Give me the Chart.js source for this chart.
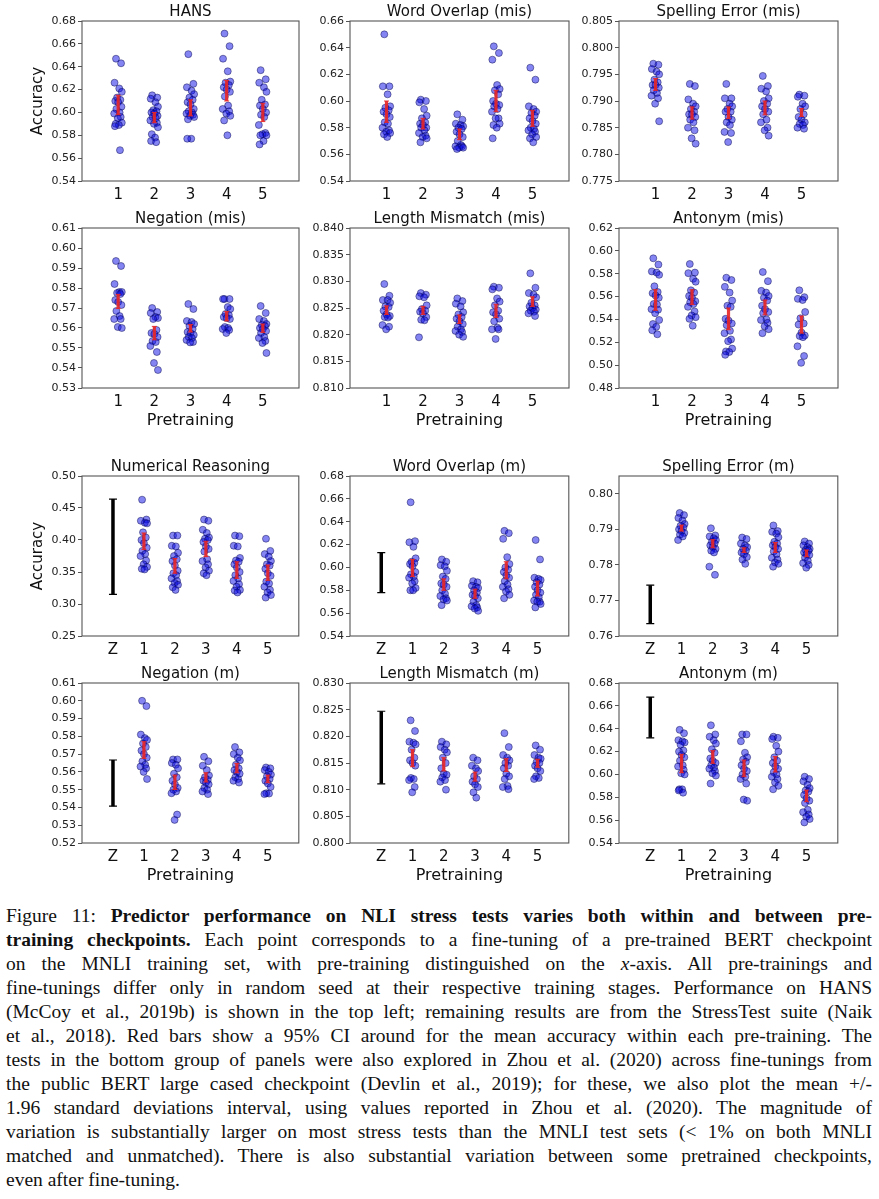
<!DOCTYPE html>
<html lang="en">
<head>
<meta charset="UTF-8">
<title>Figure 11</title>
<script src="https://cdn.jsdelivr.net/npm/chart.js@4"></script>
<style>
  body { margin: 0; background: #fff; width: 879px; height: 1199px; position: relative; overflow: hidden; }
  .panel { position: absolute; }
  .caption { position: absolute; left: 6px; top: 904px; width: 866px; font-family: "Liberation Serif", "DejaVu Serif", serif; font-size: 19.5px; line-height: 24px; color: #111; }
  .caption div { text-align: justify; text-align-last: justify; }
  .caption div.last { text-align-last: left; }
</style>
</head>
<body>
<div id="panels"></div>
<div class="caption">
<div>Figure 11: <b>Predictor performance on NLI stress tests varies both within and between pre-</b></div>
<div><b>training checkpoints.</b> Each point corresponds to a fine-tuning of a pre-trained BERT checkpoint</div>
<div>on the MNLI training set, with pre-training distinguished on the <i>x</i>-axis. All pre-trainings and</div>
<div>fine-tunings differ only in random seed at their respective training stages. Performance on HANS</div>
<div>(McCoy et al., 2019b) is shown in the top left; remaining results are from the StressTest suite (Naik</div>
<div>et al., 2018). Red bars show a 95% CI around for the mean accuracy within each pre-training. The</div>
<div>tests in the bottom group of panels were also explored in Zhou et al. (2020) across fine-tunings from</div>
<div>the public BERT large cased checkpoint (Devlin et al., 2019); for these, we also plot the mean +/-</div>
<div>1.96 standard deviations interval, using values reported in Zhou et al. (2020). The magnitude of</div>
<div>variation is substantially larger on most stress tests than the MNLI test sets (&lt; 1% on both MNLI</div>
<div>matched and unmatched). There is also substantial variation between some pretrained checkpoints,</div>
<div class="last">even after fine-tuning.</div>
</div>
<script>
// accuracy of each fine-tuning, one list per pre-training (1..5)
const hansPts = [
  [0.647, 0.643, 0.626, 0.621, 0.618, 0.613, 0.611, 0.610, 0.609, 0.605, 0.603, 0.600, 0.599, 0.596, 0.595, 0.591, 0.590, 0.589, 0.588, 0.567],
  [0.615, 0.613, 0.612, 0.609, 0.605, 0.602, 0.601, 0.600, 0.599, 0.597, 0.596, 0.595, 0.593, 0.591, 0.590, 0.587, 0.581, 0.578, 0.575, 0.574],
  [0.651, 0.625, 0.622, 0.619, 0.616, 0.613, 0.611, 0.609, 0.607, 0.603, 0.601, 0.600, 0.599, 0.598, 0.597, 0.596, 0.594, 0.577, 0.577],
  [0.669, 0.658, 0.647, 0.636, 0.627, 0.626, 0.624, 0.622, 0.620, 0.618, 0.614, 0.606, 0.603, 0.601, 0.599, 0.597, 0.593, 0.580],
  [0.637, 0.629, 0.626, 0.622, 0.618, 0.611, 0.607, 0.606, 0.603, 0.600, 0.598, 0.596, 0.589, 0.582, 0.581, 0.580, 0.580, 0.575, 0.572]
];
const hansCI = [[0.598, 0.615], [0.591, 0.600], [0.597, 0.611], [0.610, 0.628], [0.592, 0.608]];

const wordMisPts = [
  [0.650, 0.611, 0.611, 0.605, 0.596, 0.595, 0.593, 0.592, 0.590, 0.588, 0.584, 0.583, 0.580, 0.578, 0.577, 0.576, 0.575, 0.573],
  [0.601, 0.600, 0.599, 0.594, 0.589, 0.587, 0.584, 0.583, 0.582, 0.580, 0.580, 0.578, 0.576, 0.574, 0.573, 0.572, 0.569],
  [0.590, 0.586, 0.583, 0.582, 0.581, 0.580, 0.579, 0.577, 0.575, 0.573, 0.570, 0.567, 0.566, 0.566, 0.565, 0.565, 0.564],
  [0.641, 0.636, 0.631, 0.612, 0.609, 0.608, 0.605, 0.600, 0.598, 0.597, 0.596, 0.594, 0.592, 0.587, 0.587, 0.583, 0.582, 0.580, 0.572],
  [0.625, 0.616, 0.596, 0.594, 0.592, 0.591, 0.589, 0.587, 0.585, 0.583, 0.580, 0.579, 0.578, 0.577, 0.575, 0.573, 0.572, 0.569]
];
const wordMisCI = [[0.584, 0.600], [0.579, 0.587], [0.571, 0.579], [0.592, 0.608], [0.581, 0.593]];

const spellMisPts = [
  [0.7970, 0.7968, 0.7960, 0.7955, 0.7950, 0.7940, 0.7935, 0.7930, 0.7930, 0.7925, 0.7920, 0.7915, 0.7910, 0.7905, 0.7895, 0.7862],
  [0.7932, 0.7928, 0.7903, 0.7895, 0.7890, 0.7885, 0.7880, 0.7875, 0.7875, 0.7870, 0.7865, 0.7860, 0.7850, 0.7845, 0.7830, 0.7820],
  [0.7932, 0.7905, 0.7905, 0.7895, 0.7890, 0.7885, 0.7880, 0.7880, 0.7870, 0.7865, 0.7860, 0.7855, 0.7842, 0.7840, 0.7823],
  [0.7947, 0.7928, 0.7923, 0.7918, 0.7905, 0.7900, 0.7895, 0.7890, 0.7885, 0.7880, 0.7875, 0.7865, 0.7860, 0.7850, 0.7845, 0.7835],
  [0.7912, 0.7910, 0.7908, 0.7895, 0.7890, 0.7885, 0.7875, 0.7870, 0.7865, 0.7860, 0.7857, 0.7855, 0.7850, 0.7848]
];
const spellMisCI = [[0.7920, 0.7942], [0.7866, 0.7889], [0.7867, 0.7889], [0.7874, 0.7900], [0.7871, 0.7886]];

const negMisPts = [
  [0.5935, 0.5910, 0.5820, 0.5780, 0.5780, 0.5775, 0.5770, 0.5740, 0.5730, 0.5715, 0.5685, 0.5660, 0.5645, 0.5645, 0.5605, 0.5600],
  [0.5700, 0.5680, 0.5675, 0.5655, 0.5650, 0.5645, 0.5590, 0.5575, 0.5570, 0.5555, 0.5535, 0.5530, 0.5510, 0.5480, 0.5425, 0.5390],
  [0.5720, 0.5695, 0.5635, 0.5630, 0.5620, 0.5610, 0.5595, 0.5580, 0.5575, 0.5565, 0.5555, 0.5550, 0.5540, 0.5530, 0.5528],
  [0.5745, 0.5745, 0.5745, 0.5705, 0.5695, 0.5670, 0.5665, 0.5655, 0.5650, 0.5645, 0.5605, 0.5600, 0.5595, 0.5590, 0.5575],
  [0.5710, 0.5675, 0.5645, 0.5635, 0.5620, 0.5615, 0.5610, 0.5600, 0.5595, 0.5585, 0.5575, 0.5555, 0.5550, 0.5535, 0.5525, 0.5475]
];
const negMisCI = [[0.5697, 0.5768], [0.5541, 0.5608], [0.5580, 0.5617], [0.5635, 0.5682], [0.5578, 0.5620]];

const lenMisPts = [
  [0.8295, 0.8273, 0.8265, 0.8265, 0.8260, 0.8253, 0.8252, 0.8245, 0.8238, 0.8235, 0.8233, 0.8232, 0.8218, 0.8215, 0.8210],
  [0.8278, 0.8275, 0.8272, 0.8270, 0.8255, 0.8248, 0.8245, 0.8243, 0.8240, 0.8233, 0.8228, 0.8227, 0.8195],
  [0.8268, 0.8263, 0.8258, 0.8253, 0.8242, 0.8238, 0.8233, 0.8230, 0.8225, 0.8220, 0.8215, 0.8210, 0.8207, 0.8205, 0.8200, 0.8196],
  [0.8290, 0.8288, 0.8285, 0.8268, 0.8262, 0.8255, 0.8245, 0.8242, 0.8238, 0.8230, 0.8225, 0.8213, 0.8210, 0.8210, 0.8192],
  [0.8315, 0.8288, 0.8278, 0.8275, 0.8270, 0.8260, 0.8255, 0.8253, 0.8250, 0.8247, 0.8245, 0.8243, 0.8240, 0.8235]
];
const lenMisCI = [[0.8238, 0.8254], [0.8238, 0.8253], [0.8221, 0.8237], [0.8232, 0.8257], [0.8253, 0.8271]];

const antMisPts = [
  [0.5935, 0.5880, 0.5820, 0.5810, 0.5790, 0.5690, 0.5640, 0.5630, 0.5610, 0.5590, 0.5535, 0.5530, 0.5490, 0.5485, 0.5455, 0.5395, 0.5360, 0.5335, 0.5305, 0.5270],
  [0.5885, 0.5810, 0.5805, 0.5755, 0.5730, 0.5655, 0.5635, 0.5605, 0.5590, 0.5560, 0.5550, 0.5535, 0.5510, 0.5470, 0.5435, 0.5420, 0.5405, 0.5345],
  [0.5765, 0.5745, 0.5685, 0.5635, 0.5565, 0.5520, 0.5510, 0.5405, 0.5390, 0.5365, 0.5350, 0.5300, 0.5280, 0.5225, 0.5210, 0.5145, 0.5120, 0.5115, 0.5090],
  [0.5815, 0.5735, 0.5650, 0.5635, 0.5605, 0.5590, 0.5565, 0.5520, 0.5490, 0.5465, 0.5455, 0.5400, 0.5395, 0.5370, 0.5340, 0.5315, 0.5280],
  [0.5655, 0.5595, 0.5580, 0.5570, 0.5465, 0.5410, 0.5365, 0.5355, 0.5285, 0.5260, 0.5255, 0.5245, 0.5165, 0.5080, 0.5020]
];
const antMisCI = [[0.548, 0.566], [0.553, 0.566], [0.531, 0.550], [0.544, 0.557], [0.528, 0.543]];

// bottom group: Z = mean +/- 1.96 sd from Zhou et al. (2020)
const numPts = [
  [0.463, 0.432, 0.430, 0.427, 0.426, 0.412, 0.404, 0.400, 0.395, 0.388, 0.383, 0.378, 0.375, 0.368, 0.362, 0.358, 0.355, 0.354],
  [0.407, 0.407, 0.391, 0.390, 0.380, 0.375, 0.370, 0.367, 0.360, 0.352, 0.348, 0.345, 0.340, 0.336, 0.333, 0.330, 0.326, 0.322],
  [0.432, 0.430, 0.416, 0.411, 0.404, 0.402, 0.400, 0.397, 0.390, 0.386, 0.382, 0.370, 0.367, 0.362, 0.357, 0.352, 0.348, 0.345],
  [0.407, 0.406, 0.391, 0.390, 0.372, 0.368, 0.366, 0.362, 0.357, 0.350, 0.345, 0.340, 0.336, 0.331, 0.327, 0.322, 0.321, 0.318],
  [0.402, 0.383, 0.378, 0.374, 0.367, 0.362, 0.360, 0.355, 0.348, 0.344, 0.335, 0.332, 0.327, 0.322, 0.318, 0.314, 0.310]
];
const numCI = [[0.385, 0.411], [0.348, 0.371], [0.374, 0.398], [0.340, 0.366], [0.337, 0.361]];
const numZ = [0.315, 0.464];

const wordMPts = [
  [0.657, 0.623, 0.622, 0.618, 0.608, 0.605, 0.604, 0.603, 0.601, 0.596, 0.594, 0.592, 0.591, 0.588, 0.586, 0.582, 0.580, 0.580],
  [0.607, 0.605, 0.602, 0.601, 0.597, 0.592, 0.590, 0.586, 0.585, 0.583, 0.580, 0.577, 0.575, 0.573, 0.572, 0.571, 0.567],
  [0.588, 0.587, 0.584, 0.583, 0.582, 0.580, 0.578, 0.576, 0.575, 0.573, 0.570, 0.567, 0.566, 0.565, 0.564, 0.562],
  [0.632, 0.630, 0.625, 0.609, 0.603, 0.600, 0.598, 0.596, 0.593, 0.591, 0.588, 0.585, 0.583, 0.581, 0.579, 0.576, 0.573],
  [0.624, 0.607, 0.591, 0.590, 0.589, 0.587, 0.585, 0.583, 0.580, 0.578, 0.576, 0.574, 0.571, 0.570, 0.570, 0.568, 0.565]
];
const wordMCI = [[0.592, 0.607], [0.580, 0.590], [0.573, 0.581], [0.590, 0.605], [0.575, 0.588]];
const wordMZ = [0.578, 0.613];

const spellMPts = [
  [0.7946, 0.7940, 0.7932, 0.7925, 0.7915, 0.7910, 0.7905, 0.7900, 0.7895, 0.7890, 0.7885, 0.7880, 0.7870],
  [0.7903, 0.7883, 0.7880, 0.7875, 0.7870, 0.7865, 0.7860, 0.7855, 0.7850, 0.7845, 0.7840, 0.7835, 0.7795, 0.7772],
  [0.7877, 0.7873, 0.7860, 0.7855, 0.7850, 0.7845, 0.7840, 0.7835, 0.7830, 0.7822, 0.7815, 0.7803],
  [0.7911, 0.7895, 0.7893, 0.7888, 0.7878, 0.7865, 0.7860, 0.7855, 0.7850, 0.7845, 0.7838, 0.7830, 0.7820, 0.7815, 0.7807, 0.7803, 0.7795],
  [0.7866, 0.7860, 0.7855, 0.7850, 0.7845, 0.7842, 0.7840, 0.7835, 0.7830, 0.7828, 0.7820, 0.7812, 0.7805, 0.7800, 0.7792]
];
const spellMCI = [[0.7895, 0.7912], [0.7848, 0.7871], [0.7835, 0.7848], [0.7835, 0.7863], [0.7823, 0.7842]];
const spellMZ = [0.7635, 0.7743];

const negMPts = [
  [0.600, 0.597, 0.581, 0.579, 0.578, 0.576, 0.574, 0.572, 0.570, 0.568, 0.566, 0.564, 0.563, 0.562, 0.560, 0.556],
  [0.567, 0.567, 0.565, 0.564, 0.562, 0.559, 0.557, 0.555, 0.553, 0.551, 0.550, 0.549, 0.548, 0.536, 0.533],
  [0.5685, 0.566, 0.5635, 0.561, 0.558, 0.557, 0.5555, 0.555, 0.554, 0.553, 0.551, 0.550, 0.549, 0.5475],
  [0.574, 0.571, 0.570, 0.568, 0.5665, 0.564, 0.562, 0.561, 0.560, 0.559, 0.557, 0.556, 0.555, 0.554],
  [0.5625, 0.562, 0.561, 0.560, 0.5585, 0.5575, 0.556, 0.555, 0.5535, 0.5515, 0.548, 0.5478, 0.5475]
];
const negMCI = [[0.5676, 0.5770], [0.5501, 0.5582], [0.5543, 0.5595], [0.5595, 0.5648], [0.5539, 0.5582]];
const negMZ = [0.5407, 0.5667];

const lenMPts = [
  [0.8230, 0.8210, 0.8190, 0.8188, 0.8185, 0.8175, 0.8160, 0.8155, 0.8150, 0.8145, 0.8122, 0.8120, 0.8118, 0.8105, 0.8095],
  [0.8190, 0.8185, 0.8180, 0.8175, 0.8170, 0.8160, 0.8150, 0.8140, 0.8130, 0.8128, 0.8123, 0.8118, 0.8115, 0.8100],
  [0.8160, 0.8155, 0.8145, 0.8140, 0.8135, 0.8125, 0.8120, 0.8115, 0.8110, 0.8105, 0.8095, 0.8085],
  [0.8206, 0.8180, 0.8165, 0.8160, 0.8155, 0.8150, 0.8145, 0.8140, 0.8130, 0.8125, 0.8120, 0.8107, 0.8105, 0.8101],
  [0.8183, 0.8175, 0.8165, 0.8160, 0.8158, 0.8152, 0.8150, 0.8145, 0.8140, 0.8135, 0.8125, 0.8122, 0.8120]
];
const lenMCI = [[0.8143, 0.8175], [0.8135, 0.8160], [0.8116, 0.8133], [0.8134, 0.8158], [0.8142, 0.8157]];
const lenMZ = [0.8111, 0.8247];

const antMPts = [
  [0.639, 0.636, 0.630, 0.629, 0.628, 0.626, 0.621, 0.620, 0.617, 0.615, 0.612, 0.608, 0.607, 0.604, 0.601, 0.600, 0.587, 0.587, 0.586, 0.584],
  [0.643, 0.635, 0.633, 0.630, 0.627, 0.622, 0.619, 0.614, 0.612, 0.610, 0.608, 0.606, 0.605, 0.603, 0.601, 0.599, 0.592],
  [0.635, 0.635, 0.629, 0.619, 0.615, 0.613, 0.611, 0.608, 0.605, 0.603, 0.600, 0.598, 0.596, 0.592, 0.578, 0.577],
  [0.633, 0.632, 0.631, 0.625, 0.620, 0.615, 0.612, 0.610, 0.607, 0.605, 0.602, 0.600, 0.598, 0.596, 0.593, 0.590, 0.587],
  [0.598, 0.596, 0.594, 0.591, 0.588, 0.586, 0.585, 0.582, 0.579, 0.577, 0.575, 0.569, 0.567, 0.565, 0.563, 0.561, 0.558]
];
const antMCI = [[0.6015, 0.6176], [0.6097, 0.6208], [0.598, 0.6126], [0.6021, 0.6156], [0.5761, 0.5863]];
const antMZ = [0.632, 0.6677];

// tick labels
const hansTicks = ['0.54', '0.56', '0.58', '0.60', '0.62', '0.64', '0.66', '0.68'];
const wordMisTicks = ['0.54', '0.56', '0.58', '0.60', '0.62', '0.64', '0.66'];
const spellMisTicks = ['0.775', '0.780', '0.785', '0.790', '0.795', '0.800', '0.805'];
const negMisTicks = ['0.53', '0.54', '0.55', '0.56', '0.57', '0.58', '0.59', '0.60', '0.61'];
const lenMisTicks = ['0.810', '0.815', '0.820', '0.825', '0.830', '0.835', '0.840'];
const antMisTicks = ['0.48', '0.50', '0.52', '0.54', '0.56', '0.58', '0.60', '0.62'];
const numTicks = ['0.25', '0.30', '0.35', '0.40', '0.45', '0.50'];
const wordMTicks = ['0.54', '0.56', '0.58', '0.60', '0.62', '0.64', '0.66', '0.68'];
const spellMTicks = ['0.76', '0.77', '0.78', '0.79', '0.80'];
const negMTicks = ['0.52', '0.53', '0.54', '0.55', '0.56', '0.57', '0.58', '0.59', '0.60', '0.61'];
const lenMTicks = ['0.800', '0.805', '0.810', '0.815', '0.820', '0.825', '0.830'];
const antMTicks = ['0.54', '0.56', '0.58', '0.60', '0.62', '0.64', '0.66', '0.68'];

const topLabels = ['1', '2', '3', '4', '5'];
const bottomLabels = ['Z', '1', '2', '3', '4', '5'];

// fixed horizontal spread of the dots around each pre-training
const jitter = [-0.06, 0.08, -0.10, 0.03, 0.10, -0.03, 0.06, -0.08, 0.00, 0.09, -0.05, 0.04, -0.11, 0.07, -0.01, 0.10, -0.07, 0.02, -0.09, 0.05];

const panels = [
  { title: 'HANS', row: 0, col: 0, pts: hansPts, ci: hansCI, ticks: hansTicks, ylabel: 'Accuracy' },
  { title: 'Word Overlap (mis)', row: 0, col: 1, pts: wordMisPts, ci: wordMisCI, ticks: wordMisTicks },
  { title: 'Spelling Error (mis)', row: 0, col: 2, pts: spellMisPts, ci: spellMisCI, ticks: spellMisTicks },
  { title: 'Negation (mis)', row: 1, col: 0, pts: negMisPts, ci: negMisCI, ticks: negMisTicks, xlabel: true },
  { title: 'Length Mismatch (mis)', row: 1, col: 1, pts: lenMisPts, ci: lenMisCI, ticks: lenMisTicks, xlabel: true },
  { title: 'Antonym (mis)', row: 1, col: 2, pts: antMisPts, ci: antMisCI, ticks: antMisTicks, xlabel: true },
  { title: 'Numerical Reasoning', row: 2, col: 0, pts: numPts, ci: numCI, z: numZ, ticks: numTicks, ylabel: 'Accuracy' },
  { title: 'Word Overlap (m)', row: 2, col: 1, pts: wordMPts, ci: wordMCI, z: wordMZ, ticks: wordMTicks },
  { title: 'Spelling Error (m)', row: 2, col: 2, pts: spellMPts, ci: spellMCI, z: spellMZ, ticks: spellMTicks, ymax: 0.805 },
  { title: 'Negation (m)', row: 3, col: 0, pts: negMPts, ci: negMCI, z: negMZ, ticks: negMTicks, xlabel: true },
  { title: 'Length Mismatch (m)', row: 3, col: 1, pts: lenMPts, ci: lenMCI, z: lenMZ, ticks: lenMTicks, xlabel: true },
  { title: 'Antonym (m)', row: 3, col: 2, pts: antMPts, ci: antMCI, z: antMZ, ticks: antMTicks, xlabel: true }
];

const colLeft = [82, 350, 619];
const colRight = [302, 572, 841];
const rowTop = [21, 228, 476, 683];
const plotH = 160;
const titleH = 18;

Chart.defaults.font.family = 'DejaVu Sans';
Chart.defaults.color = '#111';

// box round the plot, and the panel title centred over the plot (not the canvas)
const framePlugin = {
  id: 'frame',
  afterDraw(chart, args, opts) {
    const a = chart.chartArea, ctx = chart.ctx;
    ctx.save();
    ctx.strokeStyle = '#555';
    ctx.lineWidth = 1.1;
    ctx.strokeRect(a.left, a.top, a.right - a.left, a.bottom - a.top);
    ctx.fillStyle = '#111';
    ctx.font = '15px "DejaVu Sans"';
    ctx.textAlign = 'center';
    ctx.textBaseline = 'middle';
    ctx.fillText(opts.text, (a.left + a.right) / 2, a.top - titleH / 2);
    ctx.restore();
  }
};

function makePanel(p) {
  const yw = p.col === 0 ? 82 : 46;
  const bottomH = p.xlabel ? 46 : 26;
  const cw = yw + (colRight[p.col] - colLeft[p.col]) + 2;
  const ch = titleH + plotH + bottomH;
  const box = document.createElement('div');
  box.className = 'panel';
  box.style.left = (colLeft[p.col] - yw) + 'px';
  box.style.top = (rowTop[p.row] - titleH) + 'px';
  const canvas = document.createElement('canvas');
  canvas.width = cw;
  canvas.height = ch;
  canvas.style.width = cw + 'px';
  canvas.style.height = ch + 'px';
  box.appendChild(canvas);
  document.getElementById('panels').appendChild(box);

  const hasZ = !!p.z;
  const xLabels = hasZ ? bottomLabels : topLabels;
  const xVals = xLabels.map((l, i) => hasZ ? i : i + 1);
  const yVals = p.ticks.map(parseFloat);

  const datasets = [];
  if (hasZ) {
    datasets.push({
      data: [{ x: 0, y: p.z[0] }, { x: 0, y: p.z[1] }],
      showLine: true, borderColor: '#000', borderWidth: 3.5,
      pointStyle: 'line', pointRadius: 4, pointBorderWidth: 1.2,
      pointBorderColor: '#000', pointBackgroundColor: '#000'
    });
  }
  p.ci.forEach((c, i) => {
    datasets.push({
      data: [{ x: i + 1, y: c[0] }, { x: i + 1, y: c[1] }],
      showLine: true, borderColor: 'rgba(232,40,40,0.92)', borderWidth: 3.2,
      pointStyle: 'line', pointRadius: 2.5, pointBorderWidth: 1,
      pointBorderColor: 'rgba(232,40,40,0.92)'
    });
  });
  const dots = [];
  p.pts.forEach((grp, i) => {
    grp.forEach((v, j) => dots.push({ x: i + 1 + jitter[j % jitter.length], y: v }));
  });
  datasets.push({
    data: dots,
    pointRadius: 3.5,
    pointBackgroundColor: 'rgba(10,10,230,0.5)',
    pointBorderColor: 'rgba(0,0,70,0.55)',
    pointBorderWidth: 0.8
  });

  new Chart(canvas, {
    type: 'scatter',
    data: { datasets },
    plugins: [framePlugin],
    options: {
      responsive: false,
      animation: false,
      events: [],
      layout: { padding: { left: 0, right: 2, top: titleH, bottom: 0 } },
      plugins: {
        legend: { display: false },
        tooltip: { enabled: false },
        title: { display: false },
        frame: { text: p.title }
      },
      scales: {
        x: {
          type: 'linear', min: hasZ ? -1 : 0, max: 6,
          afterBuildTicks(axis) { axis.ticks = xVals.map(v => ({ value: v })); },
          afterFit(axis) { axis.height = bottomH; },
          ticks: { autoSkip: false, maxRotation: 0, padding: 5, color: '#111', font: { size: 15 },
            callback: (v, i) => xLabels[i] },
          grid: { display: false, drawTicks: false },
          border: { display: false },
          title: { display: !!p.xlabel, text: 'Pretraining', color: '#111',
            font: { size: 16, lineHeight: 1.2 }, padding: { top: 0, bottom: 4 } }
        },
        y: {
          type: 'linear', min: yVals[0], max: p.ymax || yVals[yVals.length - 1],
          afterBuildTicks(axis) { axis.ticks = yVals.map(v => ({ value: v })); },
          afterFit(axis) { axis.width = yw; },
          ticks: { autoSkip: false, padding: 2, color: '#222', font: { size: 11 },
            callback: (v, i) => p.ticks[i] },
          grid: { display: true, drawOnChartArea: false, drawTicks: true, tickLength: 4, color: '#555' },
          border: { display: false },
          title: { display: !!p.ylabel, text: p.ylabel || '', color: '#111',
            font: { size: 15, lineHeight: 1.2 }, padding: { top: 29, bottom: 0 } }
        }
      }
    }
  });
}

panels.forEach(makePanel);
</script>
</body>
</html>
